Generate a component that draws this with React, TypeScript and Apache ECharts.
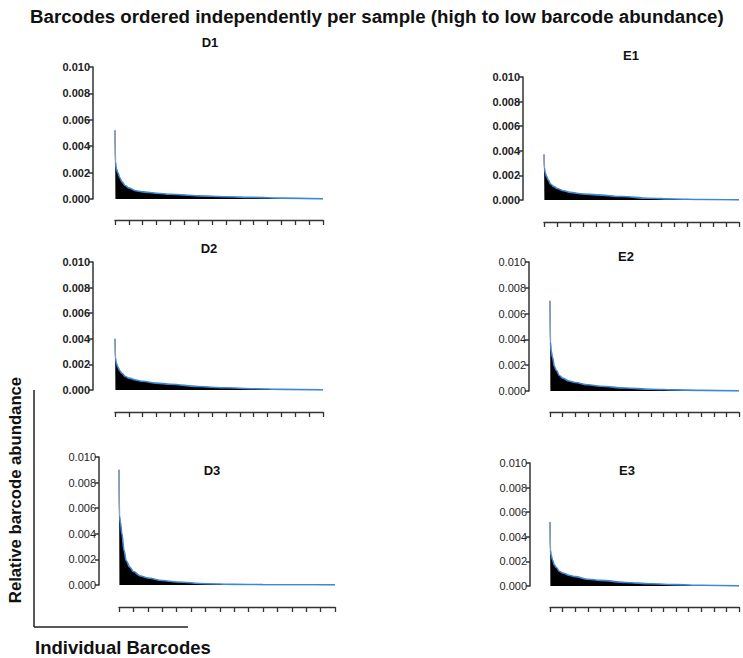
import React, { useEffect, useRef } from "react";
import * as echarts from "echarts";

const ranks = [0, 3, 10, 20, 35, 50, 75, 100, 150, 200, 300, 400, 600, 800, 1000, 1200, 1500];
const D1 = [0.0052, 0.0028, 0.0023, 0.002, 0.0016, 0.0013, 0.001, 0.00083, 0.00063, 0.00054, 0.00044, 0.00036, 0.00024, 0.00017, 0.00012, 0.00007, 0.00001];
const D2 = [0.004, 0.0025, 0.0021, 0.0018, 0.0015, 0.0013, 0.00105, 0.00093, 0.00078, 0.00068, 0.00054, 0.00045, 0.00027, 0.00017, 0.0001, 0.00005, 0.00001];
const D3 = [0.009, 0.0054, 0.0049, 0.004, 0.0027, 0.0019, 0.0014, 0.00105, 0.0007, 0.00055, 0.00035, 0.00024, 0.0001, 0.00005, 0.00003, 0.00002, 0.00001];
const E1 = [0.0037, 0.0026, 0.0022, 0.0019, 0.0016, 0.0013, 0.0011, 0.00094, 0.00075, 0.00062, 0.00049, 0.00042, 0.00028, 0.00014, 0.00008, 0.00004, 0.00001];
const E2 = [0.007, 0.0038, 0.0031, 0.0026, 0.0019, 0.0016, 0.0012, 0.001, 0.00078, 0.00066, 0.00048, 0.00037, 0.00023, 0.00014, 0.00009, 0.00005, 0.00001];
const E3 = [0.0052, 0.0029, 0.0025, 0.0021, 0.0017, 0.0015, 0.0012, 0.00106, 0.00088, 0.00076, 0.00055, 0.00046, 0.00029, 0.00018, 0.00011, 0.00006, 0.00001];

const sampleNames = ["D1", "E1", "D2", "E2", "D3", "E3"];
const sampleValues = [D1, E1, D2, E2, D3, E3];
const yTicks = [0, 0.002, 0.004, 0.006, 0.008, 0.01];
const xMax = 1500;
const xInterval = 100;

const TITLE = "Barcodes ordered independently per sample (high to low barcode abundance)";
const Y_NAME = "Relative barcode abundance";
const X_NAME = "Individual Barcodes";

// layout: plot left, top (0.010), right, bottom (0.000), y-axis offset, x-axis offset, bold labels, title centre
const panels = [
  { l: 115, t: 67, r: 323, b: 199, yo: 22, xo: 21, bold: true, tx: 210, ty: 42 },
  { l: 544, t: 77, r: 739, b: 200, yo: 21, xo: 22, bold: true, tx: 631, ty: 55 },
  { l: 115, t: 262, r: 323, b: 390, yo: 22, xo: 22, bold: true, tx: 209, ty: 248 },
  { l: 550, t: 262, r: 739, b: 391, yo: 21, xo: 21, bold: false, tx: 626, ty: 256 },
  { l: 119, t: 457, r: 335, b: 585, yo: 20, xo: 22, bold: false, tx: 212, ty: 470 },
  { l: 550, t: 463, r: 739, b: 586, yo: 20, xo: 21, bold: false, tx: 627, ty: 470 },
];

const FONT = 'Arial, "Liberation Sans", Helvetica, sans-serif';

export default function App() {
  const ref = useRef<HTMLDivElement>(null);
  useEffect(() => {
    document.body.style.margin = "0";
    const chart = echarts.init(ref.current!, null, { renderer: "svg" });
    const grid: any[] = [];
    const xAxis: any[] = [];
    const yAxis: any[] = [];
    const series: any[] = [];
    const graphic: any[] = [];
    panels.forEach((p, i) => {
      grid.push({ left: p.l, top: p.t, width: p.r - p.l, height: p.b - p.t, containLabel: false });
      xAxis.push({
        type: "value",
        gridIndex: i,
        position: "bottom",
        min: 0,
        max: xMax,
        interval: xInterval,
        offset: p.xo,
        axisLine: { show: true, onZero: false, lineStyle: { color: "#333", width: 1.3 } },
        axisTick: { show: true, length: 5, lineStyle: { color: "#333", width: 1.3 } },
        axisLabel: { show: false },
        splitLine: { show: false },
      });
      yAxis.push({
        type: "value",
        gridIndex: i,
        min: yTicks[0],
        max: yTicks[yTicks.length - 1],
        interval: 0.002,
        offset: p.yo,
        axisLine: { show: true, onZero: false, lineStyle: { color: "#333", width: 1.5 } },
        axisTick: { show: true, length: 4, lineStyle: { color: "#333", width: 1.5 } },
        axisLabel: {
          formatter: (v: number) => v.toFixed(3),
          fontSize: 11,
          fontWeight: p.bold ? "bold" : "normal",
          color: "#222",
          fontFamily: FONT,
          margin: 3,
        },
        splitLine: { show: false },
      });
      const pts = ranks.map((r, k) => [r, sampleValues[i][k]]);
      series.push({
        type: "line",
        xAxisIndex: i,
        yAxisIndex: i,
        data: pts,
        showSymbol: false,
        smooth: 0.35,
        smoothMonotone: "x",
        lineStyle: { color: "#3f86d6", width: 1.6 },
        areaStyle: { color: "#000", opacity: 1 },
        z: 2,
      });
      series.push({
        type: "line",
        xAxisIndex: i,
        yAxisIndex: i,
        data: pts.slice(0, 2),
        showSymbol: false,
        lineStyle: { color: "#a0a0a0", width: 1.2 },
        z: 3,
      });
      graphic.push({
        type: "text",
        x: p.tx,
        y: p.ty,
        style: { text: sampleNames[i], font: `bold 13px ${FONT}`, fill: "#111", align: "center", verticalAlign: "middle" },
      });
    });

    graphic.push(
      {
        type: "text",
        left: 30,
        top: 7,
        style: { text: TITLE, font: `bold 18.7px ${FONT}`, fill: "#111" },
      },
      {
        type: "text",
        x: 15,
        y: 490,
        rotation: Math.PI / 2,
        style: { text: Y_NAME, font: `bold 16.7px ${FONT}`, fill: "#111", align: "center", verticalAlign: "middle" },
      },
      {
        type: "text",
        left: 35,
        top: 638,
        style: { text: X_NAME, font: `bold 18.5px ${FONT}`, fill: "#111" },
      },
      {
        type: "line",
        shape: { x1: 34, y1: 390, x2: 34, y2: 627 },
        style: { stroke: "#222", lineWidth: 1.5 },
      },
      {
        type: "line",
        shape: { x1: 34, y1: 627, x2: 188, y2: 627 },
        style: { stroke: "#222", lineWidth: 1.5 },
      }
    );

    chart.setOption({
      animation: false,
      backgroundColor: "#fff",
      grid,
      xAxis,
      yAxis,
      series,
      graphic,
    });
    return () => chart.dispose();
  }, []);
  return <div ref={ref} style={{ width: 743, height: 658 }} />;
}
